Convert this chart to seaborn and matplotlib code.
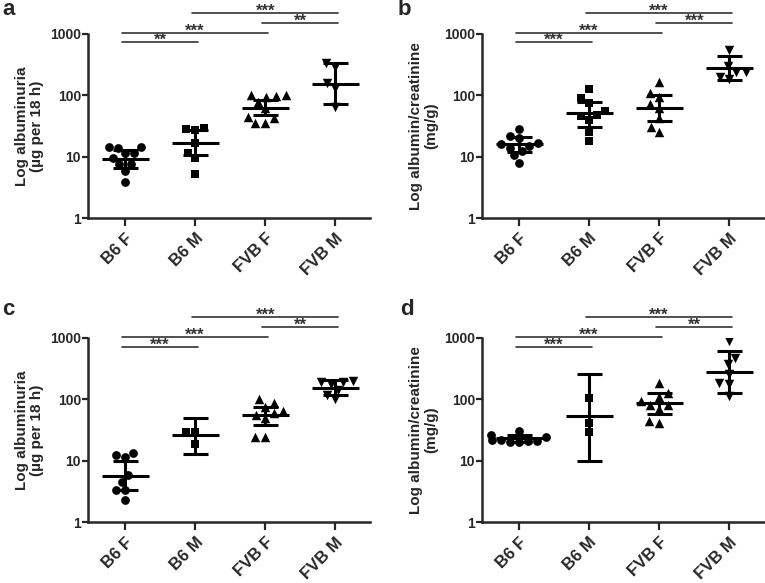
import numpy as np
import pandas as pd
import seaborn as sns
import matplotlib
matplotlib.use('Agg')
from matplotlib import pyplot as plt

groups = ['B6 F', 'B6 M', 'FVB F', 'FVB M']
markers = ['o', 's', '^', 'v']

# values (log scale)
a_vals = [[14.5, 14, 14.5, 11.5, 11.5, 9.5, 7.5, 7.5, 5.8, 3.9],
          [27, 29, 28, 16.5, 11.5, 9.5, 5.3],
          [102, 98, 100, 95, 78, 62, 45, 42, 36, 35],
          [330, 290, 160, 130, 65]]
a_mean = [9.2, 17, 63, 154]
a_lo = [6.6, 10.5, 48, 73]
a_hi = [12.7, 27, 83, 333]

b_vals = [[28, 22, 20, 16.5, 16, 15, 14, 12.5, 10.5, 8],
          [128, 90, 75, 55, 48, 46, 40, 25, 18],
          [165, 110, 95, 72, 62, 42, 30, 25],
          [540, 300, 240, 240, 200, 185]]
b_mean = [16, 51, 62, 281]
b_lo = [12.1, 30.5, 37.6, 175]
b_hi = [21, 78, 100, 430]

c_vals = [[13.2, 12.5, 11.5, 5.8, 4.5, 3.3, 3.3, 2.3],
          [30, 29, 18.5],
          [88, 100, 75, 65, 60, 55, 50, 24.5, 24.5],
          [200, 195, 190, 175, 140, 120, 100]]
c_mean = [5.7, 26, 55, 156]
c_lo = [3.35, 13, 39, 120]
c_hi = [9.8, 50, 75, 205]

d_vals = [[31, 26, 24, 22, 21, 20, 20, 21, 22],
          [105, 41, 29],
          [185, 125, 110, 95, 82, 80, 70, 45, 42],
          [880, 480, 370, 260, 185, 175, 112]]
d_mean = [23.4, 53, 87, 282]
d_lo = [20.6, 9.8, 57, 127]
d_hi = [26.5, 259, 127, 605]

# significance brackets (bottom row first)
pairs = [(0, 1), (0, 2), (2, 3), (1, 3)]
bracket_y = [720, 1030, 1500, 2200]
a_stars = ['**', '***', '**', '***']
b_stars = ['***', '***', '***', '***']
c_stars = ['***', '***', '**', '***']
d_stars = ['***', '***', '**', '***']

lab_alb = 'Log albuminuria\n(\u00b5g per 18 h)'
lab_acr = 'Log albumin/creatinine\n(mg/g)'

sns.set_style('ticks')
plt.rcParams['font.family'] = ['Liberation Sans', 'DejaVu Sans']

fig = plt.figure(figsize=(7.65, 5.83), dpi=100)

panels = [
    ('a', [0.115, 0.6256, 0.369, 0.3166], a_vals, a_mean, a_lo, a_hi, a_stars, lab_alb, (2, 15)),
    ('b', [0.630, 0.6256, 0.369, 0.3166], b_vals, b_mean, b_lo, b_hi, b_stars, lab_acr, (398, 15)),
    ('c', [0.115, 0.1041, 0.369, 0.3163], c_vals, c_mean, c_lo, c_hi, c_stars, lab_alb, (2, 315)),
    ('d', [0.630, 0.1041, 0.369, 0.3163], d_vals, d_mean, d_lo, d_hi, d_stars, lab_acr, (400, 315)),
]

for letter, pos, vals, mean, lo, hi, stars, ylab, lpos in panels:
    ax = fig.add_axes(pos)
    ax.set_yscale('log')
    for g, v, m in zip(groups, vals, markers):
        df = pd.DataFrame({'group': g, 'value': v})
        sns.swarmplot(data=df, x='group', y='value', order=groups, marker=m,
                      color='black', size=6.8 if m in '^v' else 6.3,
                      linewidth=0, ax=ax, zorder=3)
    xs = np.arange(len(groups))
    mean = np.array(mean)
    ax.errorbar(xs, mean, yerr=[mean - np.array(lo), np.array(hi) - mean],
                fmt='none', ecolor='black', elinewidth=2.2, capsize=9,
                capthick=2.2, zorder=4)
    ax.hlines(mean, xs - 0.335, xs + 0.335, color='black', lw=2.2, zorder=4)

    ax.set_xlim(-0.53, 3.5)
    ax.set_ylim(1, 1000)
    ax.set_yticks([1, 10, 100, 1000])
    ax.set_yticklabels(['1', '10', '100', '1000'], fontweight='bold')
    ax.yaxis.set_minor_locator(matplotlib.ticker.NullLocator())
    ax.tick_params(axis='y', length=4, width=1.6, pad=1, labelsize=10)
    ax.tick_params(axis='x', length=6, width=1.6, pad=3, labelsize=12)
    for lbl in ax.get_xticklabels():
        lbl.set_rotation(45)
        lbl.set_ha('right')
        lbl.set_va('top')
        lbl.set_rotation_mode('anchor')
        lbl.set_fontweight('bold')
    ax.set_xlabel('')
    ax.set_ylabel(ylab, fontsize=11, fontweight='bold', linespacing=1.1,
                  labelpad=4)
    sns.despine(ax=ax)
    for s in ['left', 'bottom']:
        ax.spines[s].set_linewidth(1.8)

    for (i, j), yb, st in zip(pairs, bracket_y, stars):
        ax.plot([i - 0.05, j + 0.04], [yb, yb], color='#333333', lw=1.2,
                clip_on=False)
        ax.annotate(st, xy=((i + j) / 2, yb), xytext=(0, -2),
                    textcoords='offset points', ha='center', va='baseline',
                    fontsize=12, fontweight='bold', color='#333333',
                    annotation_clip=False)

    fig.text(lpos[0] / 765, 1 - lpos[1] / 583, letter, fontsize=16,
             fontweight='bold', ha='left', va='baseline')

fig.savefig('out.png', dpi=100)
